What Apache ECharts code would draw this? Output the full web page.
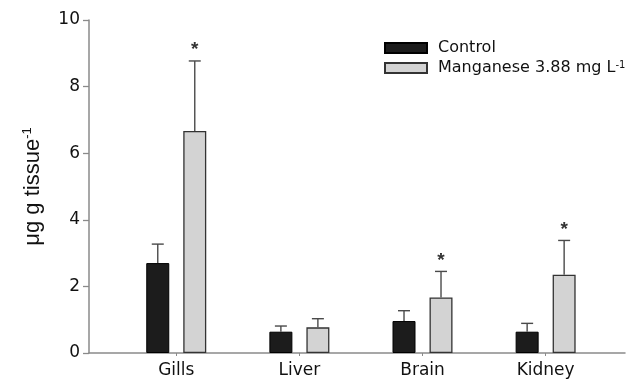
<!DOCTYPE html>
<html>
<head>
<meta charset="utf-8">
<script src="https://cdn.jsdelivr.net/npm/echarts@6/dist/echarts.min.js"></script>
<style>
  html, body { margin: 0; padding: 0; background: #fff; }
  #chart { width: 630px; height: 381px; }
</style>
</head>
<body>
<div id="chart"></div>
<script>
// Tissue manganese content (mean + SD) for control and exposed fish
const categories = ['Gills', 'Liver', 'Brain', 'Kidney'];
const controlMean = [2.70, 0.64, 0.96, 0.64];
const controlSD = [0.57, 0.17, 0.31, 0.25];
const manganeseMean = [6.67, 0.77, 1.67, 2.35];
const manganeseSD = [2.10, 0.26, 0.78, 1.03];
const manganeseSignificant = [true, false, true, true];
const controlSignificant = [false, false, false, false];
const yTicks = [0, 2, 4, 6, 8, 10];

const seriesNames = ['Control', 'Manganese 3.88 mg L-1'];

const BAR_W = 23;
const BAR_GAP = 14;
const HALF_STEP = (BAR_W + BAR_GAP) / 2;
const TEXT_FONT = 'DejaVu Sans';
const TEXT_COLOR = '#111';
const AXIS_GRAY = '#8a8a8a';

function errorData(means, sds, flags) {
  return means.map((m, i) => [i, m, m + sds[i], flags[i] ? 1 : 0]);
}

function errorRenderer(offset) {
  return function (params, api) {
    const idx = api.value(0);
    const base = api.coord([idx, api.value(1)]);
    const top = api.coord([idx, api.value(2)]);
    const x = base[0] + offset;
    const style = { stroke: '#4a4a4a', lineWidth: 1.4 };
    const children = [
      { type: 'line', shape: { x1: x, y1: base[1], x2: x, y2: top[1] }, style },
      { type: 'line', shape: { x1: x - 6, y1: top[1], x2: x + 6, y2: top[1] }, style }
    ];
    if (api.value(3)) {
      children.push({
        type: 'text',
        style: {
          text: '*', x: x, y: top[1] - 11,
          fontSize: 19, fontWeight: 'bold', fontFamily: 'Liberation Sans', fill: '#333',
          align: 'center', verticalAlign: 'middle'
        }
      });
    }
    return { type: 'group', children };
  };
}

const chart = echarts.init(document.getElementById('chart'));
chart.setOption({
  animation: false,
  backgroundColor: '#fff',
  grid: [
    { left: 89, right: 5, top: 20, bottom: 28 },
    { left: 114.7, right: 22.8, top: 20, bottom: 28 }
  ],
  legend: {
    left: 384, top: 40, orient: 'vertical', padding: 0,
    itemWidth: 42, itemHeight: 10, itemGap: 4,
    selectedMode: false,
    data: seriesNames.map(n => ({ name: n, icon: 'rect' })),
    formatter: name => name === seriesNames[1]
      ? '{t|Manganese 3.88 mg L}{s|-1}'
      : '{t|' + name + '}',
    textStyle: {
      rich: {
        t: { fontFamily: TEXT_FONT, fontSize: 16, color: TEXT_COLOR, lineHeight: 16, padding: [0, 0, 0, 6] },
        s: { fontFamily: TEXT_FONT, fontSize: 10, color: TEXT_COLOR, lineHeight: 10, verticalAlign: 'top', padding: [0, 0, 8, 0] }
      }
    }
  },
  xAxis: [
    {
      gridIndex: 0, type: 'value', min: 0, max: 1,
      axisLine: { show: true, lineStyle: { color: AXIS_GRAY, width: 1.5 } },
      axisTick: { show: false }, axisLabel: { show: false }, splitLine: { show: false }
    },
    {
      gridIndex: 1, type: 'category', data: categories,
      axisLine: { show: false },
      axisTick: { show: true, alignWithLabel: true, length: 3, lineStyle: { color: AXIS_GRAY } },
      axisLabel: { fontFamily: TEXT_FONT, fontSize: 17, color: TEXT_COLOR, margin: 9 },
      splitLine: { show: false }
    }
  ],
  yAxis: [
    {
      gridIndex: 0, type: 'value', min: yTicks[0], max: yTicks[yTicks.length - 1], interval: 2,
      axisLine: { show: true, lineStyle: { color: AXIS_GRAY, width: 1.5 } },
      axisTick: { show: true, inside: false, length: 6, lineStyle: { color: AXIS_GRAY, width: 1.3 } },
      axisLabel: { fontFamily: TEXT_FONT, fontSize: 17, color: TEXT_COLOR, margin: 9 },
      splitLine: { show: false },
      name: '{a|μg g tissue}{b|-1}',
      nameLocation: 'middle', nameGap: 44, nameRotate: 90,
      nameTextStyle: {
        rich: {
          a: { fontFamily: 'Liberation Sans', fontSize: 22, color: TEXT_COLOR, lineHeight: 24 },
          b: { fontFamily: 'Liberation Sans', fontSize: 13, color: TEXT_COLOR, lineHeight: 13, verticalAlign: 'top', padding: [0, 0, 10, 0] }
        }
      }
    },
    {
      gridIndex: 1, type: 'value', min: yTicks[0], max: yTicks[yTicks.length - 1], show: false
    }
  ],
  series: [
    {
      name: seriesNames[0], type: 'bar', xAxisIndex: 1, yAxisIndex: 1,
      data: controlMean, barWidth: BAR_W, barGap: (BAR_GAP / BAR_W * 100) + '%',
      itemStyle: { color: '#1c1c1c', borderColor: '#000', borderWidth: 1 }
    },
    {
      name: seriesNames[1], type: 'bar', xAxisIndex: 1, yAxisIndex: 1,
      data: manganeseMean, barWidth: BAR_W,
      itemStyle: { color: '#d3d3d3', borderColor: '#333', borderWidth: 1.3 }
    },
    {
      type: 'custom', xAxisIndex: 1, yAxisIndex: 1, z: 3,
      renderItem: errorRenderer(-HALF_STEP),
      encode: { x: 0, y: 2 },
      data: errorData(controlMean, controlSD, controlSignificant)
    },
    {
      type: 'custom', xAxisIndex: 1, yAxisIndex: 1, z: 3,
      renderItem: errorRenderer(HALF_STEP),
      encode: { x: 0, y: 2 },
      data: errorData(manganeseMean, manganeseSD, manganeseSignificant)
    }
  ]
});
</script>
</body>
</html>
